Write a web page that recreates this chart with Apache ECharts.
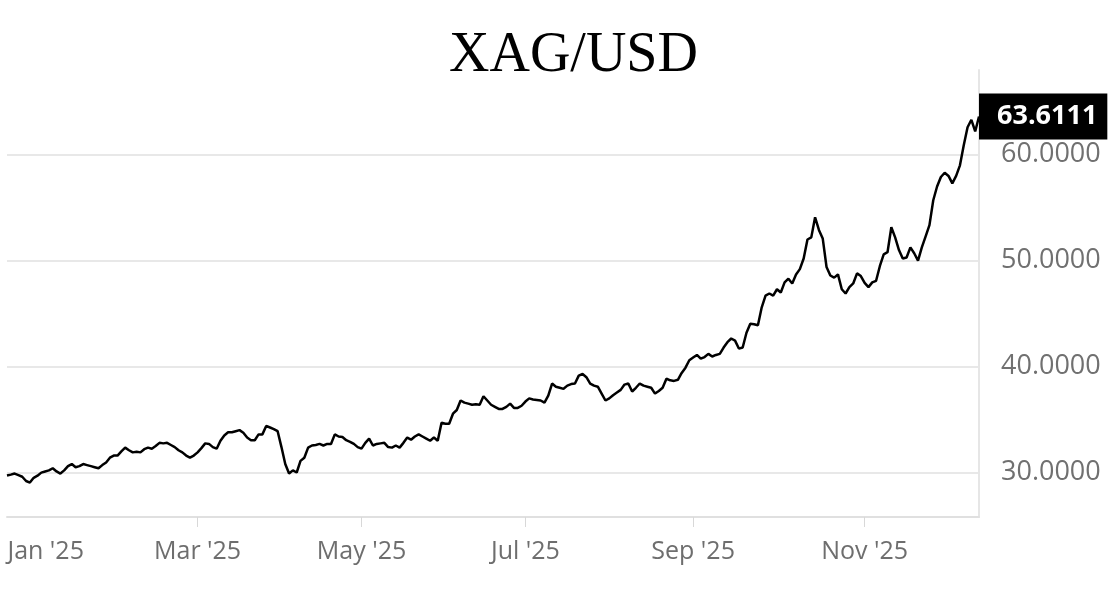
<!DOCTYPE html>
<html><head><meta charset="utf-8">
<script src="https://cdn.jsdelivr.net/npm/echarts@6/dist/echarts.min.js"></script>
<style>html,body{margin:0;padding:0;background:#fff}#c{width:1117px;height:605px}</style>
</head><body><div id="c"></div>
<script>
const chartTitle = 'XAG/USD';
const firstTradingDay = '2024-12-23';
const prices = [
29.71,29.8,29.9,29.75,29.6,29.2,29.05,29.5,29.7,29.99,
30.1,30.2,30.4,30.1,29.9,30.2,30.6,30.8,30.5,30.6,
30.8,30.7,30.6,30.5,30.4,30.7,30.95,31.4,31.6,31.6,
32.0,32.35,32.1,31.9,31.95,31.9,32.2,32.35,32.25,32.5,
32.8,32.75,32.8,32.6,32.4,32.1,31.9,31.6,31.4,31.6,
31.9,32.3,32.75,32.7,32.4,32.25,33.0,33.5,33.8,33.8,
33.9,34.0,33.75,33.3,33.05,33.05,33.6,33.6,34.4,34.25,
34.1,33.9,32.4,30.8,29.9,30.2,30.0,31.1,31.4,32.35,
32.55,32.6,32.7,32.55,32.7,32.7,33.6,33.4,33.35,33.05,
32.9,32.7,32.4,32.25,32.8,33.2,32.55,32.7,32.75,32.8,
32.4,32.35,32.55,32.35,32.8,33.3,33.1,33.4,33.6,33.4,
33.2,33.0,33.3,33.0,34.7,34.6,34.6,35.55,35.9,36.8,
36.6,36.5,36.4,36.45,36.4,37.2,36.8,36.4,36.2,36.0,
36.0,36.2,36.5,36.1,36.1,36.3,36.7,37.0,36.9,36.85,
36.8,36.6,37.25,38.4,38.1,38.0,37.9,38.2,38.35,38.4,
39.15,39.3,39.0,38.4,38.2,38.1,37.45,36.8,37.0,37.3,
37.55,37.8,38.3,38.4,37.65,38.0,38.4,38.2,38.1,38.0,
37.45,37.7,38.0,38.85,38.7,38.65,38.75,39.4,39.9,40.6,
40.85,41.1,40.75,40.9,41.2,40.95,41.1,41.2,41.8,42.3,
42.65,42.45,41.7,41.8,43.2,44.05,44.0,43.9,45.6,46.7,
46.9,46.7,47.3,47.0,47.95,48.3,47.85,48.7,49.2,50.2,
52.0,52.2,54.1,52.9,52.1,49.4,48.6,48.4,48.7,47.3,
46.9,47.5,47.85,48.8,48.55,47.9,47.5,47.95,48.1,49.5,
50.6,50.8,53.15,52.2,51.0,50.2,50.3,51.25,50.7,50.0,
51.25,52.3,53.35,55.7,57.0,57.9,58.3,58.0,57.3,58.0,
59.0,60.9,62.6,63.3,62.2,63.6111
];
const tickMonths = ['2025-01','2025-03','2025-05','2025-07','2025-09','2025-11'];
const tickLabels = ["Jan '25","Mar '25","May '25","Jul '25","Sep '25","Nov '25"];
const yTicks = [30,40,50,60];

// trading-day categories (weekdays)
const dates = [];
{
  const d = new Date(firstTradingDay + 'T00:00:00Z');
  while (dates.length < prices.length) {
    const w = d.getUTCDay();
    if (w !== 0 && w !== 6) dates.push(d.toISOString().slice(0,10));
    d.setUTCDate(d.getUTCDate() + 1);
  }
}
const labelAt = {};
tickMonths.forEach((m, i) => {
  const idx = dates.findIndex(s => s.slice(0,7) === m);
  if (idx >= 0) labelAt[idx] = i;
});

const chart = echarts.init(document.getElementById('c'));
chart.setOption({
  animation: false,
  backgroundColor: '#fff',
  title: {
    text: chartTitle, left: 444, top: 23,
    textStyle: { fontFamily: 'Liberation Serif', fontSize: 56, fontWeight: 'normal', color: '#000' }
  },
  grid: { left: 7, right: 138, top: 70, bottom: 88, containLabel: false },
  xAxis: {
    type: 'category', data: dates, boundaryGap: false,
    axisLine: { show: true, lineStyle: { color: '#e0e0e0', width: 2 } },
    axisTick: {
      show: true, length: 10, lineStyle: { color: '#d8d8d8', width: 1 },
      interval: (i) => labelAt[i] !== undefined && labelAt[i] > 0
    },
    axisLabel: {
      interval: (i) => labelAt[i] !== undefined,
      formatter: (v, i) => {
        const k = labelAt[i];
        if (k === undefined) return '';
        return k === 0 ? '{first|' + tickLabels[k] + '}' : tickLabels[k];
      },
      rich: { first: { padding: [0,0,0,24], fontFamily: 'Open Sans', fontSize: 25, color: '#6e6e6e' } },
      color: '#6e6e6e', fontFamily: 'Open Sans', fontSize: 25, margin: 22
    },
    splitLine: { show: false }
  },
  yAxis: {
    type: 'value', position: 'right', min: 25.8, max: 68, scale: true,
    axisLine: { show: true, lineStyle: { color: '#e6e6e6', width: 2 } },
    axisTick: { show: false, customValues: yTicks },
    axisLabel: {
      customValues: yTicks, formatter: v => Number(v).toFixed(4),
      color: '#707070', fontFamily: 'Open Sans', fontSize: 27, margin: 22,
      padding: [12, 0, 0, 0]
    },
    splitLine: { show: true, lineStyle: { color: '#e8e8e8', width: 2 } }
  },
  series: [{
    type: 'line', data: prices, showSymbol: false, smooth: false,
    lineStyle: { color: '#000', width: 2.5 },
    endLabel: {
      show: true, distance: 0,
      formatter: p => Number(p.value).toFixed(4),
      backgroundColor: '#000', color: '#fff', fontWeight: 'bold',
      fontFamily: 'Open Sans', fontSize: 27, padding: [10,10,9,18]
    }
  }]
});
</script></body></html>
